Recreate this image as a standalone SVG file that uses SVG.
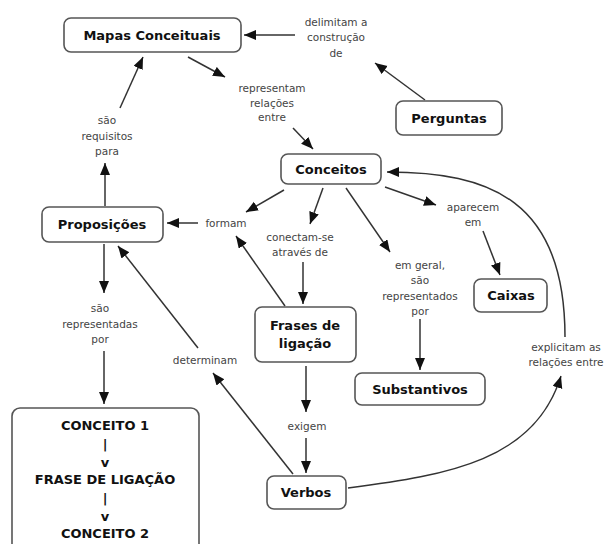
<svg xmlns="http://www.w3.org/2000/svg" width="609" height="544" viewBox="0 0 609 544">
<style>
.node rect{fill:#fff;stroke:#555;stroke-width:1.6}
.nt{font-family:"DejaVu Sans",Verdana,sans-serif;font-weight:bold;font-size:13px;fill:#111;text-anchor:middle}
.lt{font-family:"DejaVu Sans",Verdana,sans-serif;font-size:10.5px;fill:#444;text-anchor:middle}
.c path{fill:none;stroke:#333;stroke-width:1.5;marker-end:url(#ah)}
</style>
<defs>
<marker id="ah" markerUnits="userSpaceOnUse" markerWidth="13" markerHeight="11" refX="12" refY="5" orient="auto">
<path d="M0,0 L12,5 L0,10 z" fill="#111"/>
</marker>
</defs>
<rect width="609" height="544" fill="#fff"/>
<g class="c" id="connectors">
<path d="M295 35 L244 35"/>
<path d="M425 100 L375 63"/>
<path d="M188 57 L225 77"/>
<path d="M293 128 L313 149"/>
<path d="M120 108 L143 57"/>
<path d="M105 206 L105 163"/>
<path d="M284 190 L246 212"/>
<path d="M198 223 L167 223"/>
<path d="M323 188 L310 224"/>
<path d="M303 262 L303 304"/>
<path d="M285 306 L236 236"/>
<path d="M346 188 L390 252"/>
<path d="M385 187 L436 205"/>
<path d="M483 231 L500 275"/>
<path d="M420 319 L420 370"/>
<path d="M306 366 L306 412"/>
<path d="M306 438 L306 473"/>
<path d="M293 474 L213 373"/>
<path d="M198 348 L118 246"/>
<path d="M104 244 L104 293"/>
<path d="M104 351 L104 404"/>
<path d="M348 488 C 450 475, 535 460, 561 376"/>
<path d="M565 337 C 565 200, 490 172, 387 172"/>
</g>
<g class="lt" id="labels">
<text x="336" y="26">delimitam a</text>
<text x="336" y="41">construção</text>
<text x="336" y="57">de</text>
<text x="272" y="92">representam</text>
<text x="272" y="107">relações</text>
<text x="272" y="121">entre</text>
<text x="107" y="124">são</text>
<text x="107" y="140">requisitos</text>
<text x="107" y="155">para</text>
<text x="226" y="227">formam</text>
<text x="300" y="241">conectam-se</text>
<text x="300" y="256">através de</text>
<text x="473" y="211">aparecem</text>
<text x="473" y="226">em</text>
<text x="420" y="269">em geral,</text>
<text x="420" y="284">são</text>
<text x="420" y="300">representados</text>
<text x="420" y="315">por</text>
<text x="566" y="351">explicitam as</text>
<text x="566" y="366">relações entre</text>
<text x="307" y="430">exigem</text>
<text x="100" y="312">são</text>
<text x="100" y="328">representadas</text>
<text x="100" y="343">por</text>
<text x="205" y="364">determinam</text>
</g>
<g class="node" id="mapas"><rect x="64" y="18" width="177" height="34" rx="7"/><text class="nt" x="152" y="40">Mapas Conceituais</text></g>
<g class="node" id="perguntas"><rect x="396" y="101" width="106" height="34" rx="7"/><text class="nt" x="449" y="123">Perguntas</text></g>
<g class="node" id="conceitos"><rect x="281" y="154" width="100" height="30" rx="7"/><text class="nt" x="331" y="174">Conceitos</text></g>
<g class="node" id="proposicoes"><rect x="42" y="207" width="121" height="35" rx="7"/><text class="nt" x="102" y="229">Proposições</text></g>
<g class="node" id="frases"><rect x="255" y="307" width="101" height="55" rx="7"/><text class="nt" x="305" y="330">Frases de</text><text class="nt" x="305" y="348">ligação</text></g>
<g class="node" id="caixas"><rect x="474" y="279" width="73" height="33" rx="7"/><text class="nt" x="511" y="300">Caixas</text></g>
<g class="node" id="substantivos"><rect x="355" y="373" width="130" height="32" rx="7"/><text class="nt" x="420" y="394">Substantivos</text></g>
<g class="node" id="verbos"><rect x="267" y="476" width="79" height="33" rx="7"/><text class="nt" x="306" y="497">Verbos</text></g>
<g class="node" id="exemplo"><rect x="12" y="408" width="187" height="150" rx="8"/>
<text class="nt" x="105" y="430">CONCEITO 1</text>
<text class="nt" x="105" y="449">|</text>
<text class="nt" x="105" y="467">v</text>
<text class="nt" x="105" y="484">FRASE DE LIGAÇÃO</text>
<text class="nt" x="105" y="503">|</text>
<text class="nt" x="105" y="521">v</text>
<text class="nt" x="105" y="538">CONCEITO 2</text>
</g>
</svg>
